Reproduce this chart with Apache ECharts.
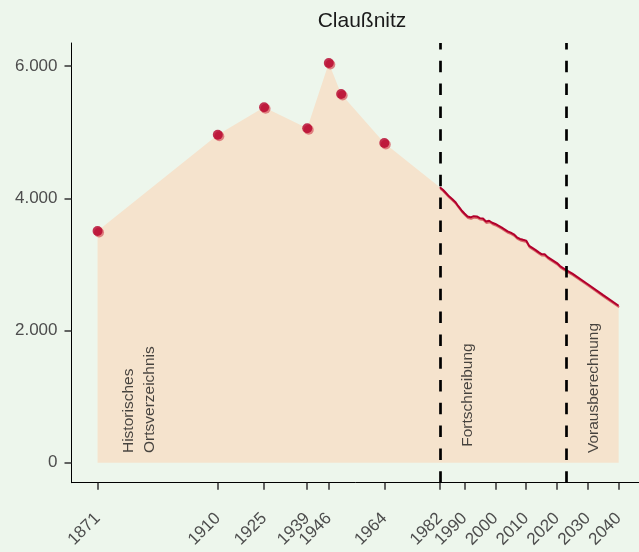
<!DOCTYPE html>
<html>
<head>
<meta charset="utf-8">
<script src="https://cdn.jsdelivr.net/npm/echarts@6/dist/echarts.min.js"></script>
<style>
  html, body { margin: 0; padding: 0; background: #edf6ec; }
  #chart { width: 639px; height: 552px; }
</style>
</head>
<body>
<div id="chart"></div>
<script>
// historical census points
const histYears = [1871, 1910, 1925, 1939, 1946, 1950, 1964];
const histValues = [3505, 4962, 5377, 5059, 6047, 5578, 4837];

// Fortschreibung + Vorausberechnung
const projYears = [1982, 1983, 1984, 1985, 1986, 1987, 1988, 1989, 1990, 1991,
  1992, 1993, 1994, 1995, 1996, 1997, 1998, 1999, 2000, 2001, 2002, 2003, 2004,
  2005, 2006, 2007, 2008, 2009, 2010, 2011, 2012, 2013, 2014, 2015, 2016, 2017,
  2018, 2019, 2020, 2021, 2022, 2023, 2025, 2030, 2035, 2040];
const projValues = [4166, 4130, 4080, 4030, 3990, 3945, 3880, 3820, 3770, 3725,
  3712, 3730, 3725, 3700, 3695, 3650, 3660, 3630, 3612, 3585, 3560, 3530, 3500,
  3480, 3455, 3410, 3385, 3372, 3360, 3280, 3250, 3220, 3185, 3157, 3155, 3110,
  3080, 3050, 3020, 2975, 2945, 2915, 2860, 2700, 2535, 2375];

const xTicks = [1871, 1910, 1925, 1939, 1946, 1964, 1982, 1990, 2000, 2010, 2020, 2030, 2040];
const yTicks = [0, 2000, 4000, 6000];
const breakYears = [1982, 2023];

const annotations = [
  { year: 1884.5, value: 147, text: 'Historisches\nOrtsverzeichnis' },
  { year: 1991, value: 242, text: 'Fortschreibung' },
  { year: 2032, value: 147, text: 'Vorausberechnung' }
];

const histData = histYears.map((y, i) => [y, histValues[i]]);
const projData = projYears.map((y, i) => [y, projValues[i]]);
const areaData = histData.concat(projData);

const fmtThousands = v => String(v).replace(/\B(?=(\d{3})+(?!\d))/g, '.');

const chart = echarts.init(document.getElementById('chart'));
const FONT = 'Liberation Sans';

chart.setOption({
  backgroundColor: '#edf6ec',
  animation: false,
  textStyle: { fontFamily: FONT },
  title: {
    text: 'Claußnitz',
    left: 357,
    top: 6,
    textAlign: 'center',
    textStyle: { fontFamily: FONT, fontSize: 21, fontWeight: 'normal', color: '#1a1a1a' }
  },
  grid: { left: 71.5, right: 0, top: 43, bottom: 69.3 },
  xAxis: {
    type: 'value',
    min: 1862.55,
    max: 2046.6,
    splitLine: { show: false },
    axisLine: { onZero: false, lineStyle: { color: '#000', width: 1 } },
    axisTick: { customValues: xTicks, length: 7, lineStyle: { color: '#333', width: 1.5 } },
    axisLabel: {
      customValues: xTicks,
      rotate: 45,
      margin: 33,
      fontSize: 17,
      color: '#4d4d4d',
      fontFamily: FONT,
      formatter: v => String(v)
    }
  },
  yAxis: {
    type: 'value',
    min: -302,
    max: 6349,
    splitLine: { show: false },
    axisLine: { show: true, onZero: false, lineStyle: { color: '#000', width: 1 } },
    axisTick: { show: true, customValues: yTicks, length: 7, lineStyle: { color: '#333', width: 1.5 } },
    axisLabel: {
      customValues: yTicks,
      margin: 14,
      fontSize: 17,
      color: '#4d4d4d',
      fontFamily: FONT,
      formatter: v => fmtThousands(v)
    }
  },
  series: [
    {
      type: 'line',
      data: areaData,
      symbol: 'none',
      lineStyle: { width: 0 },
      areaStyle: { color: '#f5e3cd', opacity: 1 },
      silent: true,
      z: 1
    },
    {
      type: 'line',
      data: projData,
      symbol: 'none',
      lineStyle: {
        color: '#b2002c',
        width: 2,
        shadowColor: 'rgba(214,90,95,0.9)',
        shadowBlur: 0,
        shadowOffsetY: 1.5,
        shadowOffsetX: 0.5
      },
      markLine: {
        silent: true,
        symbol: 'none',
        label: { show: false },
        lineStyle: { color: '#000', type: [11.5, 11.3], width: 2.7 },
        data: breakYears.map(y => ({ xAxis: y }))
      },
      z: 3
    },
    {
      type: 'scatter',
      data: histData,
      symbolSize: 10,
      symbolOffset: [1.5, 1.5],
      itemStyle: { color: '#d9646a' },
      z: 4
    },
    {
      type: 'scatter',
      data: histData,
      symbolSize: 10,
      itemStyle: { color: '#b5002b' },
      z: 5
    },
    {
      type: 'scatter',
      data: annotations.map(a => ({ value: [a.year, a.value], name: a.text })),
      symbolSize: 0,
      silent: true,
      label: {
        show: true,
        position: 'inside',
        rotate: 90,
        align: 'left',
        verticalAlign: 'middle',
        fontSize: 15.5,
        lineHeight: 21,
        color: '#1a1a1a',
        fontFamily: FONT,
        formatter: p => p.name
      },
      z: 6
    }
  ]
});
</script>
</body>
</html>
